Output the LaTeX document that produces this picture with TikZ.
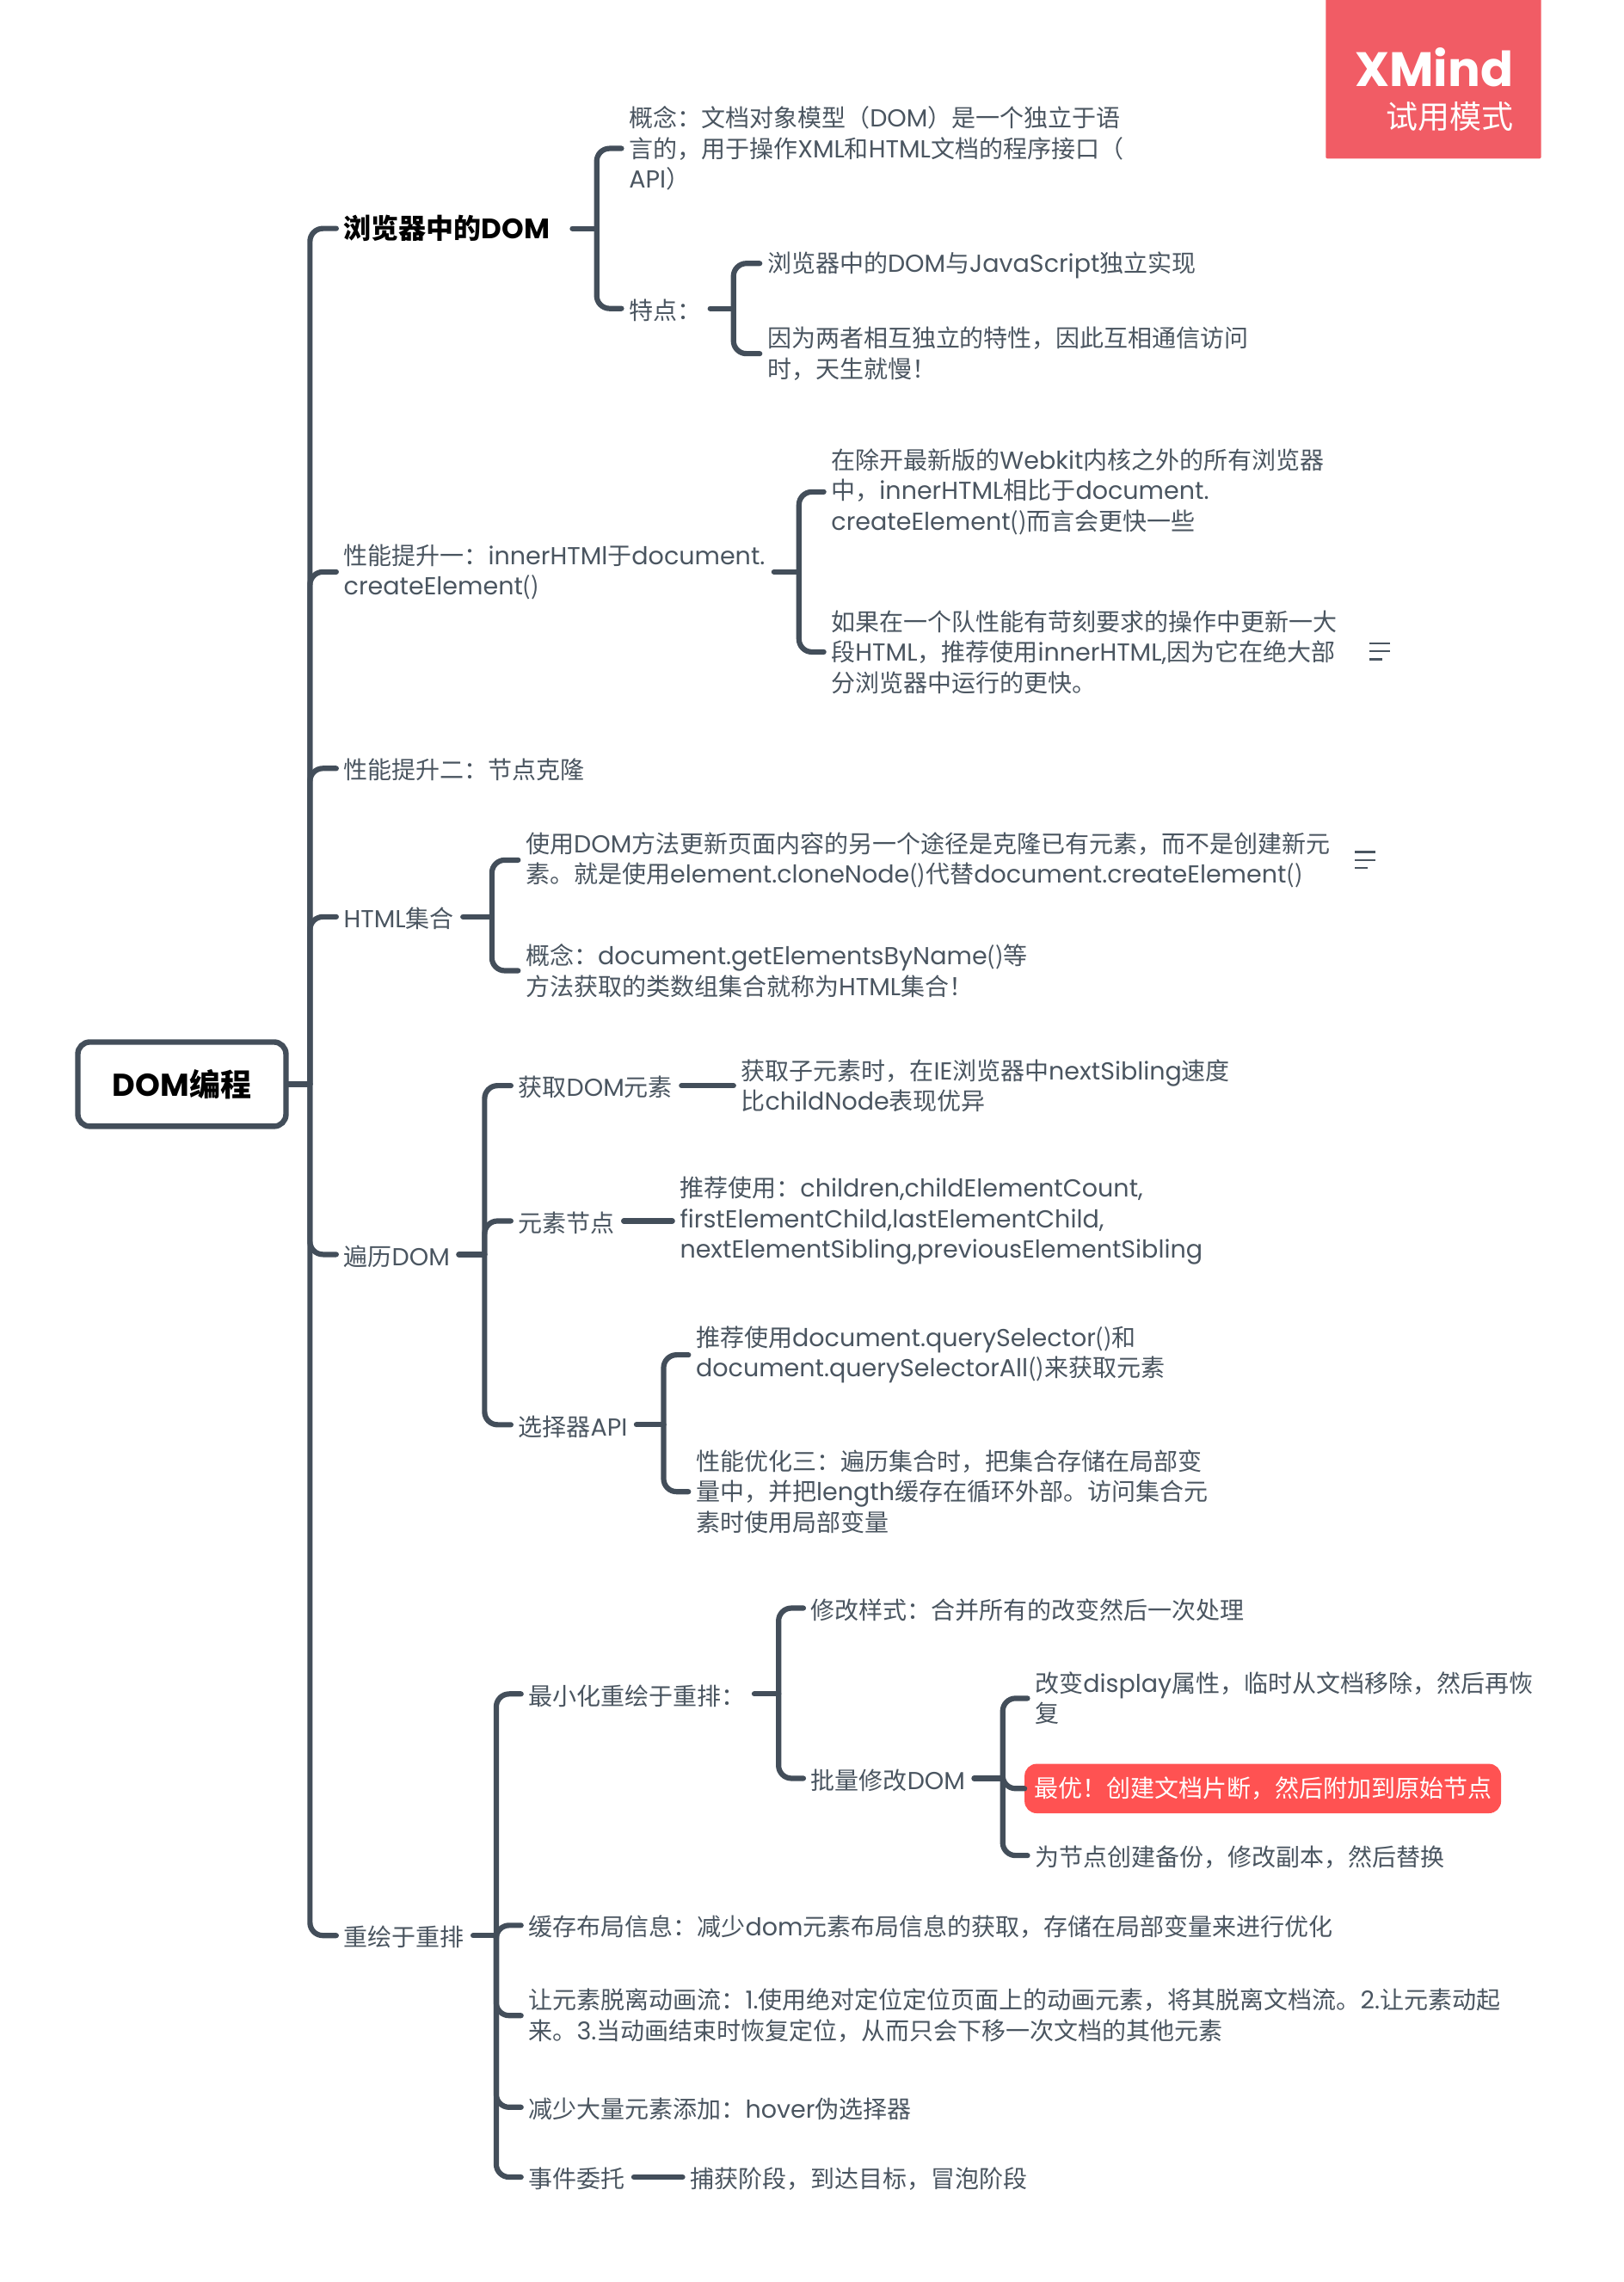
\documentclass[tikz,border=0pt]{standalone}
\usepackage{fontspec}
\setmainfont[Scale=1.02]{Poppins}
\newfontfamily\latf[Scale=1.02]{Poppins}
\newfontfamily\cjk{Noto Sans CJK SC}
\definecolor{inkc}{HTML}{4A5560}
\definecolor{linec}{HTML}{434E5A}
\definecolor{badgec}{HTML}{F15C65}
\definecolor{hotc}{HTML}{FF5252}
% chu Han va chu Latin tu doi font
\XeTeXinterchartokenstate=1
\newXeTeXintercharclass\cjkclass
\newcount\cjkidx
\newcommand{\markrange}[2]{\cjkidx=#1 \loop \XeTeXcharclass\cjkidx=\cjkclass \ifnum\cjkidx<#2 \advance\cjkidx by 1 \repeat}
\markrange{"0028}{"0029}
\markrange{"3000}{"303F}
\markrange{"4E00}{"9FFF}
\markrange{"FF00}{"FFEF}
\XeTeXinterchartoks 0 \cjkclass={\cjk}
\XeTeXinterchartoks 4095 \cjkclass={\cjk}
\XeTeXinterchartoks \cjkclass 0={\latf}
\XeTeXinterchartoks \cjkclass 4095={\latf}
\tikzset{
 topic/.style={anchor=west, inner sep=0pt, align=left, text=inkc, font=\fontsize{14}{17.75}\selectfont, execute at begin node={\leavevmode\rule{0pt}{13.8pt}}},
 link/.style={draw=linec, line width=3.1pt, line cap=round, line join=round, rounded corners=7.5pt},
 rootbox/.style={draw=linec, line width=3.2pt, rounded corners=7pt, fill=white, text=black, font=\fontsize{18}{20}\bfseries\selectfont, inner sep=0pt},
 hotbox/.style={anchor=west, fill=hotc, rounded corners=7pt, minimum width=277pt, minimum height=28.7pt, inner sep=0pt, outer xsep=-4.2pt, text=white, font=\fontsize{14}{17.75}\selectfont},
 noteline/.style={draw=inkc, line width=1.2pt}
}
% stub from parent to its spine, then one rounded arm per child
\newcommand{\brc}[4][5pt]{%
 \draw[link] ([xshift=#1]#2.east) -- (#2.east -| #3);
 \foreach \c in {#4} \draw[link] (#2.east -| #3) |- ([xshift=-4.2pt]\c.west);
}
\newcommand{\noteicon}[2]{%
 \draw[noteline] (#1,#2-5.5)--(#1+14,#2-5.5) (#1,#2)--(#1+14,#2) (#1,#2+5.5)--(#1+9,#2+5.5);
}
\begin{document}
\begin{tikzpicture}[x=0.846pt, y=-0.846pt]
\useasboundingbox (0,0) rectangle (1115.4,1568.1);
% logo
\fill[badgec, rounded corners=1pt] (911,-5) rectangle (1059,109);
\node[anchor=east, inner sep=0pt, text=white, font=\fontsize{27.5}{30}\bfseries\selectfont] (logoa) at (1040,46) {XMind};
\node[anchor=east, inner sep=0pt, text=white, font=\fontsize{18.5}{22}\selectfont] (logob) at (1040,80) {试用模式};
% goc
\node[rootbox, minimum width=121pt, minimum height=49pt] (root) at (125,745) {DOM编程};
% nhanh 1
\node[topic, text=black, font=\fontsize{16}{17.75}\bfseries\selectfont] (dom) at (236,157) {浏览器中的DOM};
\node[topic] (concept) at (432,102) {概念：文档对象模型（DOM）是一个独立于语\\言的，用于操作XML和HTML文档的程序接口（\\API）};
\node[topic] (trait) at (432,212) {特点：};
\node[topic] (traita) at (527,181) {浏览器中的DOM与JavaScript独立实现};
\node[topic] (traitb) at (527,243) {因为两者相互独立的特性，因此互相通信访问\\时，天生就慢！};
% nhanh 2
\node[topic] (perfa) at (236,393) {性能提升一：innerHTMl于document.\\createElement()};
\node[topic] (perfaa) at (571,338) {在除开最新版的Webkit内核之外的所有浏览器\\中，innerHTML相比于document.\\createElement()而言会更快一些};
\node[topic] (perfab) at (571,448) {如果在一个队性能有苛刻要求的操作中更新一大\\段HTML，推荐使用innerHTML,因为它在绝大部\\分浏览器中运行的更快。};
\noteicon{941}{447.5}
% nhanh 3
\node[topic] (perfb) at (236,528) {性能提升二：节点克隆};
% nhanh 4
\node[topic] (coll) at (236,630) {HTML集合};
\node[topic] (colla) at (361,591) {使用DOM方法更新页面内容的另一个途径是克隆已有元素，而不是创建新元\\素。就是使用element.cloneNode()代替document.createElement()};
\node[topic] (collb) at (361,667) {概念：document.getElementsByName()等\\方法获取的类数组集合就称为HTML集合！};
\noteicon{931}{591}
% nhanh 5
\node[topic] (walk) at (236,862) {遍历DOM};
\node[topic] (get) at (356,746) {获取DOM元素};
\node[topic] (geta) at (509,746) {获取子元素时，在IE浏览器中nextSibling速度\\比childNode表现优异};
\node[topic] (elem) at (356,839) {元素节点};
\node[topic] (elema) at (467,839) {推荐使用：children,childElementCount,\\firstElementChild,lastElementChild,\\nextElementSibling,previousElementSibling};
\node[topic] (sel) at (356,979) {选择器API};
\node[topic] (sela) at (478,931) {推荐使用document.querySelector()和\\document.querySelectorAll()来获取元素};
\node[topic] (selb) at (478,1025) {性能优化三：遍历集合时，把集合存储在局部变\\量中，并把length缓存在循环外部。访问集合元\\素时使用局部变量};
% nhanh 6
\node[topic] (paint) at (236,1330) {重绘于重排};
\node[topic] (mini) at (363,1164) {最小化重绘于重排：};
\node[topic] (style) at (557,1105) {修改样式：合并所有的改变然后一次处理};
\node[topic] (batch) at (557,1222) {批量修改DOM};
\node[topic] (bata) at (711,1167) {改变display属性，临时从文档移除，然后再恢\\复};
\node[hotbox] (batb) at (709,1229) {最优！创建文档片断，然后附加到原始节点};
\node[topic] (batc) at (711,1275) {为节点创建备份，修改副本，然后替换};
\node[topic] (cache) at (363,1323) {缓存布局信息：减少dom元素布局信息的获取，存储在局部变量来进行优化};
\node[topic] (flow) at (363,1385) {让元素脱离动画流：1.使用绝对定位定位页面上的动画元素，将其脱离文档流。2.让元素动起\\来。3.当动画结束时恢复定位，从而只会下移一次文档的其他元素};
\node[topic] (hover) at (363,1448) {减少大量元素添加：hover伪选择器};
\node[topic] (evt) at (363,1496) {事件委托};
\node[topic] (evta) at (474,1496) {捕获阶段，到达目标，冒泡阶段};
% cac truc doc
\coordinate (sroot) at (213,0);
\coordinate (sdom) at (410,0);
\coordinate (strait) at (504,0);
\coordinate (sperfa) at (549,0);
\coordinate (scoll) at (338,0);
\coordinate (swalk) at (333,0);
\coordinate (ssel) at (456,0);
\coordinate (spaint) at (341,0);
\coordinate (smini) at (535,0);
\coordinate (sbatch) at (689,0);
% day noi
\draw[link] (root.east) -- (root.east -| sroot);
\foreach \c in {dom,perfa,perfb,coll,walk,paint} \draw[link] (root.east -| sroot) |- ([xshift=-4.2pt]\c.west);
\brc[13pt]{dom}{sdom}{concept,trait}
\brc{trait}{strait}{traita,traitb}
\brc{perfa}{sperfa}{perfaa,perfab}
\brc{coll}{scoll}{colla,collb}
\brc{walk}{swalk}{get,elem,sel}
\brc{sel}{ssel}{sela,selb}
\brc{paint}{spaint}{mini,cache,flow,hover,evt}
\brc{mini}{smini}{style,batch}
\brc{batch}{sbatch}{bata,batb,batc}
\draw[link] ([xshift=5pt]get.east) -- ([xshift=-4.2pt]geta.west);
\draw[link] ([xshift=5pt]elem.east) -- ([xshift=-4.2pt]elema.west);
\draw[link] ([xshift=5pt]evt.east) -- ([xshift=-4.2pt]evta.west);
\end{tikzpicture}
\end{document}
